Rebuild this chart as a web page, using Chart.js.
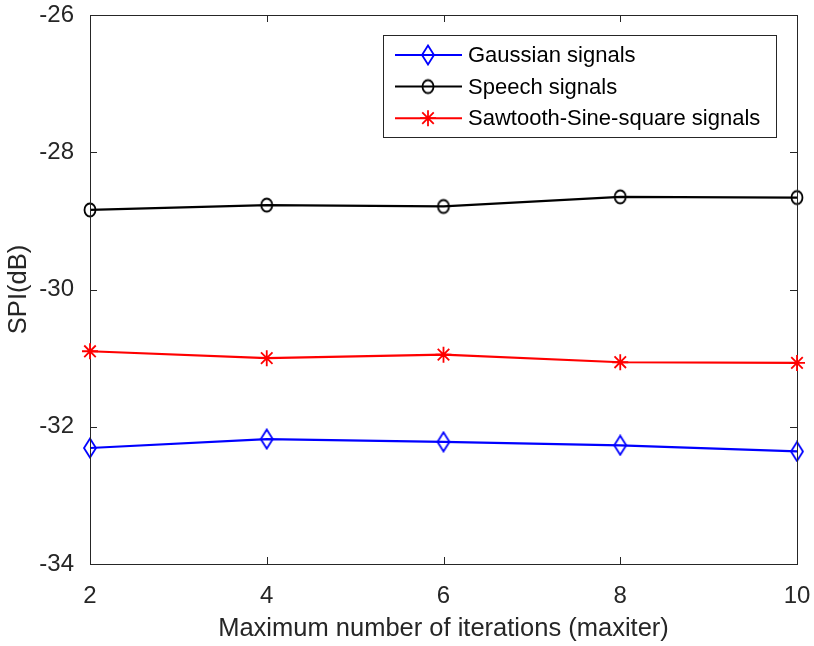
<!DOCTYPE html>
<html>
<head>
<meta charset="utf-8">
<script src="https://cdn.jsdelivr.net/npm/chart.js@4"></script>
<style>
  html, body { margin: 0; padding: 0; background: #fff; }
  #wrap { width: 814px; height: 646px; }
</style>
</head>
<body>
<div id="wrap"><canvas id="chart" width="814" height="646"></canvas></div>
<script>
const iterations = [2, 4, 6, 8, 10];
const gaussian = [-32.31, -32.18, -32.22, -32.27, -32.36];
const speech = [-28.84, -28.77, -28.79, -28.65, -28.66];
const sawtooth = [-30.90, -31.00, -30.95, -31.06, -31.07];
const seriesNames = ["Gaussian signals", "Speech signals", "Sawtooth-Sine-square signals"];
const xTicks = [2, 4, 6, 8, 10];
const yTicks = [-34, -32, -30, -28, -26];

const font = "'Liberation Sans', Arial, sans-serif";
const axisColor = "#262626";

// MATLAB style diamond (taller than wide)
function makeDiamond(color) {
  const c = document.createElement("canvas");
  c.width = 16; c.height = 22;
  const g = c.getContext("2d");
  g.strokeStyle = color;
  g.lineWidth = 1.8;
  g.beginPath();
  g.moveTo(8, 1.5); g.lineTo(14, 11); g.lineTo(8, 20.5); g.lineTo(2, 11);
  g.closePath();
  g.stroke();
  return c;
}
// slightly tall circle
function makeCircle(color) {
  const c = document.createElement("canvas");
  c.width = 16; c.height = 18;
  const g = c.getContext("2d");
  g.strokeStyle = color;
  g.lineWidth = 1.8;
  g.beginPath();
  g.ellipse(8, 9, 5.5, 6.5, 0, 0, Math.PI * 2);
  g.stroke();
  return c;
}

const markers = [makeDiamond("#0000ff"), makeCircle("#000000"), "star"];
const colors = ["#0000ff", "#000000", "#ff0000"];

function toPoints(arr) {
  return arr.map((v, i) => ({ x: iterations[i], y: v }));
}

function drawStar(ctx, x, y, r) {
  ctx.beginPath();
  ctx.moveTo(x - r, y); ctx.lineTo(x + r, y);
  ctx.moveTo(x, y - r); ctx.lineTo(x, y + r);
  const d = r * 0.72;
  ctx.moveTo(x - d, y - d); ctx.lineTo(x + d, y + d);
  ctx.moveTo(x - d, y + d); ctx.lineTo(x + d, y - d);
  ctx.stroke();
}

const frame = {
  id: "frame",
  afterDatasetsDraw(chart) {
    const { ctx, chartArea: a, scales } = chart;
    ctx.save();
    ctx.strokeStyle = axisColor;
    ctx.lineWidth = 1;
    ctx.strokeRect(a.left + 0.5, a.top + 0.5, a.right - a.left, a.bottom - a.top);
    ctx.beginPath();
    xTicks.forEach(t => {
      const x = Math.round(scales.x.getPixelForValue(t)) + 0.5;
      ctx.moveTo(x, a.bottom); ctx.lineTo(x, a.bottom - 7);
      ctx.moveTo(x, a.top); ctx.lineTo(x, a.top + 7);
    });
    yTicks.forEach(t => {
      const y = Math.round(scales.y.getPixelForValue(t)) + 0.5;
      ctx.moveTo(a.left, y); ctx.lineTo(a.left + 7, y);
      ctx.moveTo(a.right, y); ctx.lineTo(a.right - 7, y);
    });
    ctx.stroke();

    // red asterisks drawn by hand so they match the MATLAB '*'
    const meta = chart.getDatasetMeta(2);
    ctx.strokeStyle = colors[2];
    ctx.lineWidth = 1.8;
    meta.data.forEach(p => drawStar(ctx, p.x, p.y, 8));

    // legend box inside the plot
    const bx = 383.5, by = 35.5, bw = 393, bh = 102;
    ctx.fillStyle = "#fff";
    ctx.fillRect(bx, by, bw, bh);
    ctx.strokeStyle = axisColor;
    ctx.lineWidth = 1;
    ctx.strokeRect(bx, by, bw, bh);
    ctx.font = "22px " + font;
    ctx.textBaseline = "middle";
    chart.data.datasets.forEach((ds, i) => {
      const y = 55 + i * 31.6;
      ctx.strokeStyle = ds.borderColor;
      ctx.lineWidth = 2;
      ctx.beginPath();
      ctx.moveTo(395, y); ctx.lineTo(462, y);
      ctx.stroke();
      const m = markers[i];
      if (m === "star") {
        ctx.lineWidth = 1.8;
        drawStar(ctx, 428, y, 8);
      } else {
        ctx.drawImage(m, 428 - m.width / 2, y - m.height / 2);
      }
      ctx.fillStyle = "#000";
      ctx.fillText(ds.label, 468, y + 1);
    });
    ctx.restore();
  }
};

new Chart(document.getElementById("chart"), {
  type: "line",
  data: {
    datasets: [gaussian, speech, sawtooth].map((vals, i) => ({
      label: seriesNames[i],
      data: toPoints(vals),
      borderColor: colors[i],
      backgroundColor: colors[i],
      borderWidth: 2.2,
      pointStyle: markers[i] === "star" ? "circle" : markers[i],
      pointRadius: markers[i] === "star" ? 0 : 8,
      pointBorderWidth: 1.8,
      pointBorderColor: colors[i],
      pointBackgroundColor: "rgba(0,0,0,0)",
      tension: 0,
      clip: false
    }))
  },
  options: {
    responsive: false,
    animation: false,
    layout: { padding: { left: 0, right: 17, top: 15, bottom: 0 } },
    plugins: { legend: { display: false }, tooltip: { enabled: false } },
    scales: {
      x: {
        type: "linear",
        min: 2, max: 10,
        grid: { display: false },
        border: { display: false },
        afterBuildTicks: s => { s.ticks = xTicks.map(v => ({ value: v })); },
        afterFit: s => { s.height = 82; s.paddingLeft = 0; s.paddingRight = 0; },
        ticks: { color: axisColor, padding: 10, font: { family: font, size: 24 } },
        title: {
          display: true,
          text: "Maximum number of iterations (maxiter)",
          color: axisColor,
          padding: { top: 4, bottom: 2 },
          font: { family: font, size: 25.5 }
        }
      },
      y: {
        min: -34, max: -26,
        grid: { display: false },
        border: { display: false },
        afterBuildTicks: s => { s.ticks = yTicks.map(v => ({ value: v })); },
        afterFit: s => { s.width = 90; s.paddingTop = 0; s.paddingBottom = 0; },
        ticks: { color: axisColor, padding: 8, font: { family: font, size: 24 } },
        title: {
          display: true,
          text: "SPI(dB)",
          color: axisColor,
          padding: { top: 4, bottom: 0 },
          font: { family: font, size: 25.5 }
        }
      }
    }
  },
  plugins: [frame]
});
</script>
</body>
</html>
